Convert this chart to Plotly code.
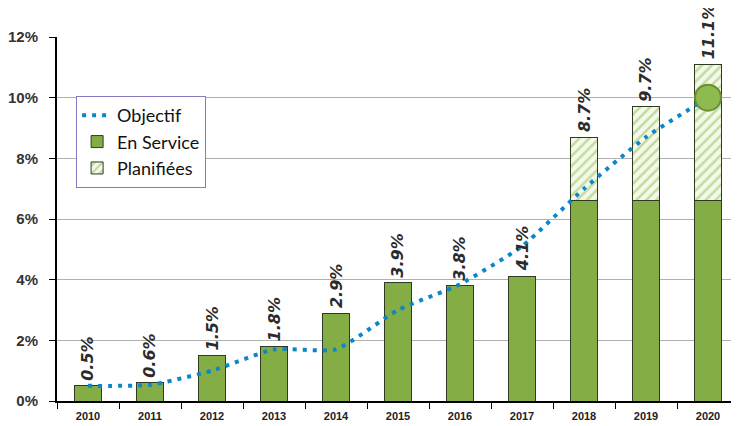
import plotly.graph_objects as go

years = ["2010", "2011", "2012", "2013", "2014", "2015", "2016", "2017", "2018", "2019", "2020"]
en_service = [0.5, 0.6, 1.5, 1.8, 2.9, 3.9, 3.8, 4.1, 6.6, 6.6, 6.6]
planifiees = [0, 0, 0, 0, 0, 0, 0, 0, 2.1, 3.1, 4.5]
objectif = [0.5, 0.53, 1.0, 1.7, 1.7, 3.0, 3.85, 5.1, 7.0, 8.7, 10.0]
labels = ["0.5%", "0.6%", "1.5%", "1.8%", "2.9%", "3.9%", "3.8%", "4.1%", "8.7%", "9.7%", "11.1%"]
yticks = [0, 2, 4, 6, 8, 10, 12]
ytick_text = ["0%", "2%", "4%", "6%", "8%", "10%", "12%"]

fig = go.Figure()
fig.add_trace(go.Bar(
    x=years, y=en_service, name="En Service", legendrank=2,
    marker=dict(color="#84ad45", line=dict(color="#2f3a22", width=1)),
    width=0.42,
))
fig.add_trace(go.Bar(
    x=years, y=planifiees, name="Planifiées", legendrank=3,
    marker=dict(color="#f4f9ea", line=dict(color="#2f3a22", width=1),
                pattern=dict(shape="/", fgcolor="#8dbb4f", bgcolor="#f4f9ea", size=7, solidity=0.35)),
    width=0.42,
))
fig.add_trace(go.Scatter(
    x=years, y=objectif, name="Objectif", mode="lines", legendrank=1,
    line=dict(color="#0b86c8", width=4, dash="4px,6px", shape="spline", smoothing=0.5),
))
fig.add_trace(go.Scatter(
    x=[years[-1]], y=[objectif[-1]], mode="markers", showlegend=False,
    marker=dict(size=26, color="#8dbb4f", line=dict(color="#6a8d36", width=2)),
))

totals = [a + b for a, b in zip(en_service, planifiees)]
for i, (t, lab) in enumerate(zip(totals, labels)):
    fig.add_annotation(
        x=i, y=t, text=lab, textangle=-90, showarrow=False,
        xanchor="center", yanchor="bottom", yshift=3,
        font=dict(family="DejaVu Sans", size=16, color="#2b2b2b", style="italic", weight="bold"),
    )

fig.update_layout(
    width=731, height=418,
    margin=dict(l=49, r=0, t=29, b=25, pad=0),
    barmode="stack",
    plot_bgcolor="white", paper_bgcolor="white",
    showlegend=True,
    legend=dict(
        x=0.028, y=0.838, xanchor="left", yanchor="top",
        bgcolor="white", bordercolor="#8a78c0", borderwidth=1,
        font=dict(family="Lato", size=18, color="#111"),
        traceorder="normal",
        itemwidth=30,
    ),
)
fig.update_yaxes(
    range=[0, 12], tickvals=yticks, ticktext=ytick_text,
    showgrid=True, gridcolor="#b0b0b0", gridwidth=1,
    showline=True, linecolor="black", linewidth=2,
    ticks="outside", ticklen=6, tickcolor="black",
    ticklabelstandoff=8,
    tickfont=dict(family="Liberation Sans", size=15, color="#333", weight="bold"),
    zeroline=False,
)
fig.update_xaxes(
    type="category", range=[-0.5, len(years) - 0.5],
    showline=True, linecolor="black", linewidth=2,
    ticks="outside", tickson="boundaries", ticklen=6, tickcolor="black",
    ticklabelstandoff=4,
    tickfont=dict(family="Liberation Sans", size=11, color="#222", weight="bold"),
    showgrid=False,
)

fig.write_html("out.html")
